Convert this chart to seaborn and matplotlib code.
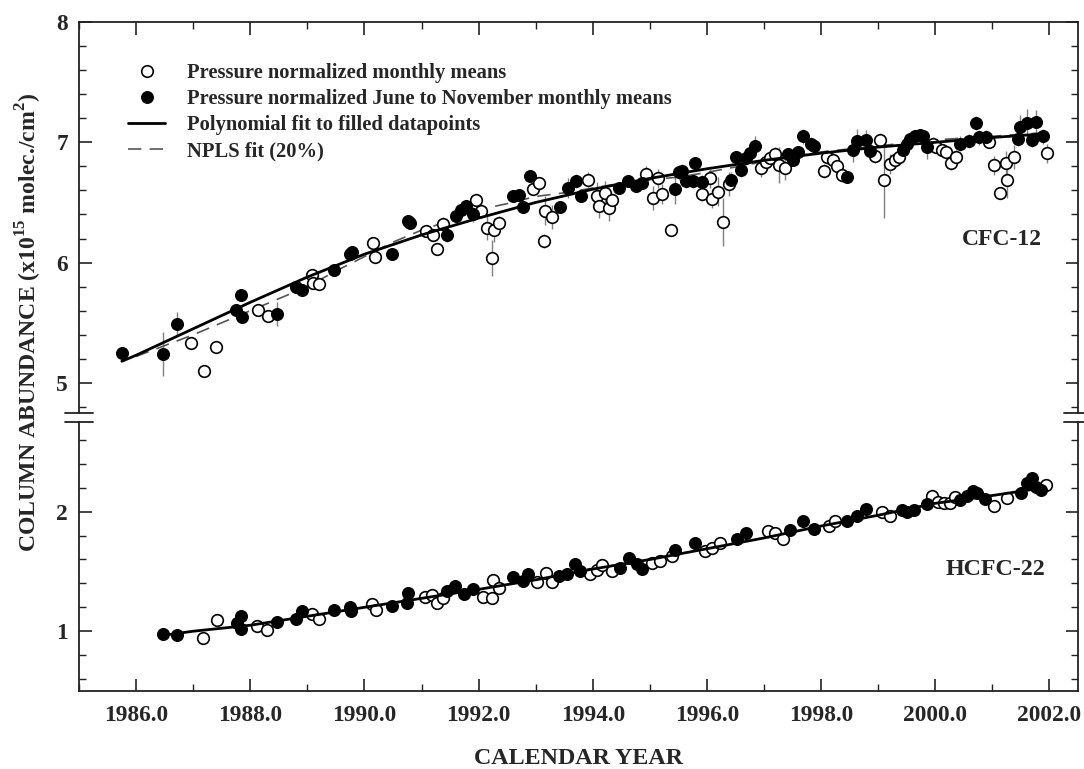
import numpy as np
import pandas as pd
import matplotlib
matplotlib.use('Agg')
import matplotlib.pyplot as plt
from matplotlib.ticker import MultipleLocator, FormatStrFormatter
from matplotlib.lines import Line2D
import seaborn as sns

# ---- CFC-12: all monthly means (open circles) ----
cfc_open_year = [1986.96, 1987.19, 1987.40, 1988.14, 1988.31, 1989.08, 1989.10, 1989.20,
                 1990.15, 1990.19, 1991.08, 1991.20, 1991.28, 1991.38, 1991.95, 1992.05,
                 1992.14, 1992.24, 1992.27, 1992.36, 1992.96, 1993.05, 1993.14, 1993.17,
                 1993.29, 1993.92, 1994.07, 1994.11, 1994.21, 1994.28, 1994.34, 1994.94,
                 1995.06, 1995.14, 1995.21, 1995.37, 1995.92, 1996.06, 1996.09, 1996.20,
                 1996.28, 1996.39, 1996.94, 1997.04, 1997.11, 1997.19, 1997.26, 1997.37,
                 1998.05, 1998.10, 1998.21, 1998.27, 1998.36, 1998.94, 1999.03, 1999.10,
                 1999.20, 1999.29, 1999.37, 1999.96, 2000.02, 2000.11, 2000.19, 2000.27,
                 2000.36, 2000.94, 2001.03, 2001.13, 2001.24, 2001.26, 2001.38, 2001.95]
cfc_open_val = [5.33, 5.10, 5.30, 5.61, 5.56, 5.90, 5.83, 5.82,
                6.16, 6.05, 6.26, 6.23, 6.11, 6.32, 6.52, 6.43,
                6.29, 6.04, 6.27, 6.33, 6.61, 6.66, 6.18, 6.43,
                6.38, 6.69, 6.55, 6.47, 6.58, 6.45, 6.52, 6.74,
                6.54, 6.70, 6.57, 6.27, 6.57, 6.70, 6.53, 6.59,
                6.34, 6.65, 6.79, 6.84, 6.87, 6.90, 6.81, 6.79,
                6.76, 6.88, 6.85, 6.80, 6.73, 6.89, 7.02, 6.69,
                6.82, 6.85, 6.88, 6.99, 6.96, 6.94, 6.92, 6.83,
                6.88, 7.00, 6.81, 6.58, 6.83, 6.69, 6.88, 6.91]
cfc_open_err = [0.04, 0.03, 0.03, 0.05, 0.04, 0.05, 0.05, 0.05,
                0.04, 0.04, 0.04, 0.04, 0.04, 0.06, 0.05, 0.06,
                0.10, 0.15, 0.10, 0.06, 0.05, 0.05, 0.06, 0.12,
                0.10, 0.06, 0.12, 0.10, 0.10, 0.10, 0.06, 0.06,
                0.10, 0.08, 0.08, 0.03, 0.06, 0.08, 0.08, 0.12,
                0.20, 0.10, 0.08, 0.05, 0.06, 0.06, 0.15, 0.10,
                0.06, 0.06, 0.08, 0.08, 0.06, 0.06, 0.06, 0.32,
                0.08, 0.06, 0.06, 0.05, 0.05, 0.05, 0.05, 0.06,
                0.06, 0.05, 0.08, 0.05, 0.10, 0.15, 0.10, 0.08]

# ---- CFC-12: June to November monthly means (filled circles) ----
cfc_fill_year = [1985.75, 1986.48, 1986.71, 1987.75, 1987.83, 1987.85, 1988.47, 1988.80,
                 1988.91, 1989.46, 1989.75, 1989.78, 1990.48, 1990.76, 1990.80, 1991.44,
                 1991.60, 1991.69, 1991.78, 1991.90, 1992.61, 1992.70, 1992.77, 1992.90,
                 1993.43, 1993.57, 1993.71, 1993.79, 1994.46, 1994.62, 1994.76, 1994.86,
                 1995.44, 1995.51, 1995.56, 1995.64, 1995.76, 1995.79, 1995.91, 1996.42,
                 1996.51, 1996.59, 1996.69, 1996.76, 1996.84, 1997.42, 1997.51, 1997.60,
                 1997.69, 1997.83, 1997.88, 1998.46, 1998.55, 1998.63, 1998.78, 1998.85,
                 1999.44, 1999.50, 1999.56, 1999.64, 1999.73, 1999.79, 1999.85, 2000.43,
                 2000.59, 2000.71, 2000.77, 2000.89, 2001.45, 2001.49, 2001.60, 2001.70,
                 2001.77, 2001.88]
cfc_fill_val = [5.25, 5.24, 5.49, 5.61, 5.73, 5.55, 5.57, 5.80,
                5.77, 5.94, 6.07, 6.09, 6.07, 6.35, 6.33, 6.23,
                6.39, 6.44, 6.47, 6.40, 6.55, 6.56, 6.46, 6.72,
                6.46, 6.62, 6.68, 6.55, 6.62, 6.68, 6.64, 6.66,
                6.61, 6.75, 6.76, 6.68, 6.68, 6.83, 6.67, 6.69,
                6.88, 6.77, 6.87, 6.91, 6.97, 6.90, 6.85, 6.92,
                7.05, 6.99, 6.97, 6.71, 6.94, 7.01, 7.02, 6.93,
                6.94, 6.99, 7.03, 7.05, 7.06, 7.05, 6.96, 6.99,
                7.01, 7.16, 7.04, 7.04, 7.03, 7.13, 7.16, 7.02,
                7.17, 7.05]
cfc_fill_err = [0.03, 0.18, 0.10, 0.04, 0.05, 0.04, 0.10, 0.03,
                0.03, 0.03, 0.03, 0.03, 0.04, 0.03, 0.03, 0.06,
                0.05, 0.05, 0.04, 0.06, 0.04, 0.04, 0.04, 0.05,
                0.04, 0.08, 0.06, 0.05, 0.05, 0.05, 0.05, 0.05,
                0.12, 0.06, 0.06, 0.06, 0.06, 0.05, 0.06, 0.06,
                0.05, 0.06, 0.06, 0.06, 0.08, 0.05, 0.05, 0.05,
                0.06, 0.05, 0.05, 0.05, 0.10, 0.10, 0.08, 0.06,
                0.05, 0.04, 0.04, 0.04, 0.04, 0.04, 0.10, 0.06,
                0.06, 0.06, 0.06, 0.06, 0.06, 0.10, 0.12, 0.06,
                0.10, 0.06]

# ---- CFC-12 fits ----
cfc_poly_year = [1985.75, 1986, 1987, 1988, 1989, 1990, 1991, 1992, 1993, 1994,
                 1995, 1996, 1997, 1998, 1999, 2000, 2001, 2001.9]
cfc_poly_val = [5.18, 5.23, 5.45, 5.67, 5.88, 6.07, 6.23, 6.37, 6.50, 6.61,
                6.70, 6.78, 6.85, 6.91, 6.96, 7.00, 7.04, 7.07]
cfc_npls_year = [1986.0, 1987.0, 1987.5, 1988.0, 1988.5, 1989.0, 1989.5, 1990.0, 1990.5,
                 1991.0, 1991.5, 1992.0, 1992.5, 1993.0, 1993.5, 1994.0, 1994.5, 1995.0,
                 1995.5, 1996.0, 1997.0, 1998.0, 1999.0, 2000.0, 2001.0, 2001.9]
cfc_npls_val = [5.22, 5.40, 5.50, 5.60, 5.70, 5.80, 5.93, 6.05, 6.17,
                6.27, 6.35, 6.44, 6.49, 6.55, 6.58, 6.62, 6.66, 6.69,
                6.71, 6.75, 6.84, 6.92, 6.97, 7.02, 7.05, 7.08]

# ---- HCFC-22 ----
hcfc_open_year = [1987.18, 1987.41, 1988.12, 1988.30, 1989.09, 1989.20, 1990.14, 1990.20,
                  1991.06, 1991.18, 1991.28, 1991.38, 1992.08, 1992.23, 1992.25, 1992.36,
                  1993.03, 1993.18, 1993.28, 1993.95, 1994.07, 1994.17, 1994.33, 1995.03,
                  1995.18, 1995.38, 1995.96, 1996.08, 1996.22, 1997.07, 1997.19, 1997.33,
                  1998.14, 1998.24, 1999.06, 1999.20, 1999.94, 2000.05, 2000.15, 2000.26,
                  2000.34, 2001.03, 2001.25, 2001.94]
hcfc_open_val = [0.94, 1.09, 1.04, 1.01, 1.14, 1.10, 1.225, 1.18,
                 1.29, 1.30, 1.24, 1.28, 1.29, 1.275, 1.43, 1.36,
                 1.41, 1.49, 1.41, 1.475, 1.51, 1.55, 1.50, 1.57,
                 1.585, 1.63, 1.67, 1.70, 1.74, 1.84, 1.82, 1.775,
                 1.88, 1.925, 1.995, 1.96, 2.13, 2.08, 2.07, 2.07,
                 2.12, 2.05, 2.115, 2.22]
hcfc_fill_year = [1986.47, 1986.71, 1987.76, 1987.84, 1987.83, 1988.46, 1988.80, 1988.91,
                  1989.46, 1989.75, 1989.76, 1990.48, 1990.74, 1990.77, 1991.44, 1991.59,
                  1991.74, 1991.91, 1992.60, 1992.77, 1992.87, 1993.40, 1993.55, 1993.69,
                  1993.78, 1994.48, 1994.64, 1994.77, 1994.86, 1995.44, 1995.79, 1996.52,
                  1996.68, 1997.45, 1997.68, 1997.87, 1998.46, 1998.63, 1998.78, 1999.41,
                  1999.50, 1999.62, 1999.86, 2000.44, 2000.55, 2000.66, 2000.73, 2000.87,
                  2001.51, 2001.60, 2001.69, 2001.77, 2001.86]
hcfc_fill_val = [0.975, 0.97, 1.07, 1.13, 1.02, 1.08, 1.10, 1.17,
                 1.175, 1.20, 1.17, 1.21, 1.24, 1.32, 1.34, 1.38,
                 1.31, 1.35, 1.45, 1.42, 1.475, 1.46, 1.475, 1.565,
                 1.50, 1.53, 1.61, 1.56, 1.52, 1.68, 1.74, 1.77,
                 1.82, 1.845, 1.92, 1.855, 1.92, 1.965, 2.02, 2.01,
                 2.00, 2.015, 2.06, 2.10, 2.13, 2.17, 2.155, 2.105,
                 2.155, 2.24, 2.28, 2.205, 2.18]
hcfc_err = 0.03
hcfc_poly_year = [1986.47, 1987, 1988, 1989, 1990, 1991, 1992, 1993, 1994,
                  1995, 1996, 1997, 1998, 1999, 2000, 2001, 2001.9]
hcfc_poly_val = [0.965, 1.00, 1.05, 1.125, 1.20, 1.275, 1.35, 1.43, 1.52,
                 1.60, 1.69, 1.78, 1.88, 1.97, 2.07, 2.135, 2.20]

legend_labels = ['Pressure normalized monthly means',
                 'Pressure normalized June to November monthly means',
                 'Polynomial fit to filled datapoints',
                 'NPLS fit (20%)']

sns.set_style('ticks')
plt.rcParams['font.family'] = ['Liberation Serif', 'DejaVu Serif']
plt.rcParams['font.weight'] = 'bold'
plt.rcParams['mathtext.fontset'] = 'custom'
plt.rcParams['mathtext.rm'] = 'Liberation Serif:bold'
plt.rcParams['mathtext.bf'] = 'Liberation Serif:bold'

W, H = 1084, 769
fig = plt.figure(figsize=(W / 100, H / 100), dpi=100)
L, R = 79, 1078
ax1 = fig.add_axes([L / W, 1 - 413 / H, (R - L) / W, (413 - 22) / H])
ax2 = fig.add_axes([L / W, 1 - 691 / H, (R - L) / W, (691 - 422) / H], sharex=ax1)

err_kw = dict(fmt='none', ecolor='#808080', elinewidth=1.0, capsize=0, zorder=1)
open_kw = dict(s=70, facecolor='white', edgecolor='black', linewidth=1.2, zorder=3)
fill_kw = dict(s=70, color='black', edgecolor='black', linewidth=1.0, zorder=4)

# upper panel: CFC-12
ax1.errorbar(cfc_open_year, cfc_open_val, yerr=cfc_open_err, **err_kw)
ax1.errorbar(cfc_fill_year, cfc_fill_val, yerr=cfc_fill_err, **err_kw)
sns.lineplot(x=cfc_npls_year, y=cfc_npls_val, ax=ax1, color='#555555', lw=1.2,
             linestyle=(0, (8, 5)), sort=False, estimator=None, zorder=2)
sns.scatterplot(x=cfc_open_year, y=cfc_open_val, ax=ax1, **open_kw)
sns.scatterplot(x=cfc_fill_year, y=cfc_fill_val, ax=ax1, **fill_kw)
sns.lineplot(x=cfc_poly_year, y=cfc_poly_val, ax=ax1, color='black', lw=2.0,
             sort=False, estimator=None, zorder=5)

# lower panel: HCFC-22
ax2.errorbar(hcfc_open_year, hcfc_open_val, yerr=hcfc_err, **err_kw)
ax2.errorbar(hcfc_fill_year, hcfc_fill_val, yerr=hcfc_err, **err_kw)
sns.scatterplot(x=hcfc_open_year, y=hcfc_open_val, ax=ax2, **open_kw)
sns.scatterplot(x=hcfc_fill_year, y=hcfc_fill_val, ax=ax2, **fill_kw)
sns.lineplot(x=hcfc_poly_year, y=hcfc_poly_val, ax=ax2, color='black', lw=2.0,
             sort=False, estimator=None, zorder=5)

ax1.set_xlim(1985.0, 2002.5)
ax1.set_ylim(4.75, 8.0)
ax2.set_ylim(0.5, 2.75)

for ax in (ax1, ax2):
    ax.xaxis.set_major_locator(MultipleLocator(2))
    ax.xaxis.set_minor_locator(MultipleLocator(1))
    ax.yaxis.set_major_locator(MultipleLocator(1))
    ax.yaxis.set_minor_locator(MultipleLocator(0.2))
    ax.yaxis.set_major_formatter(FormatStrFormatter('%d'))
    for s in ax.spines.values():
        s.set_linewidth(1.3)
        s.set_color('#222222')
    ax.tick_params(which='major', direction='in', length=9, width=1.2, labelsize=16.8,
                   left=True, right=True, color='#222222')
    ax.tick_params(which='minor', direction='in', length=5, width=1.0,
                   left=True, right=True, color='#222222')
    ax.set_xlabel('')
    ax.set_ylabel('')

ax1.spines['bottom'].set_visible(False)
ax2.spines['top'].set_visible(False)
ax1.tick_params(axis='x', which='both', bottom=False, top=True, labelbottom=False)
ax2.tick_params(axis='x', which='both', bottom=True, top=False, labelbottom=True, pad=10)
ax2.xaxis.set_major_formatter(FormatStrFormatter('%.1f'))
ax1.tick_params(axis='y', pad=8)
ax2.tick_params(axis='y', pad=8)

# break marks
bw = 14 / (R - L)
for ax, yb in ((ax1, 0), (ax2, 1)):
    for xc in (0, 1):
        ax.add_line(Line2D([xc - bw, xc + bw], [yb, yb], transform=ax.transAxes,
                           color='#222222', lw=1.3, clip_on=False))

ax1.text(2001.17, 6.19, 'CFC-12', ha='center', va='center', fontsize=17, fontweight='bold')
ax2.text(2001.06, 1.515, 'HCFC-22', ha='center', va='center', fontsize=17.3, fontweight='bold')

fig.text(578 / W, 1 - 759 / H, 'CALENDAR YEAR', ha='center', va='center',
         fontsize=17.3, fontweight='bold')
fig.text(29 / W, 1 - 322 / H, r'COLUMN ABUNDANCE (x10$^{15}$ molec./cm$^{2}$)',
         rotation=90, ha='center', va='center', fontsize=17.1, fontweight='bold')

# legend
handles = [
    Line2D([], [], ls='none', marker='o', ms=8.3, mfc='white', mec='black', mew=1.2),
    Line2D([], [], ls='none', marker='o', ms=8.3, mfc='black', mec='black'),
    Line2D([], [], color='black', lw=2.0),
    Line2D([], [], color='#555555', lw=1.2, ls=(0, (8, 5))),
]
fig.legend(handles, legend_labels, loc='upper left', bbox_to_anchor=(128 / W, 1 - 63 / H),
           frameon=False, borderpad=0, borderaxespad=0, handlelength=1.8,
           handletextpad=1.07, labelspacing=0.3, prop={'size': 14.8, 'weight': 'bold'})

fig.savefig('out.png', dpi=100)
